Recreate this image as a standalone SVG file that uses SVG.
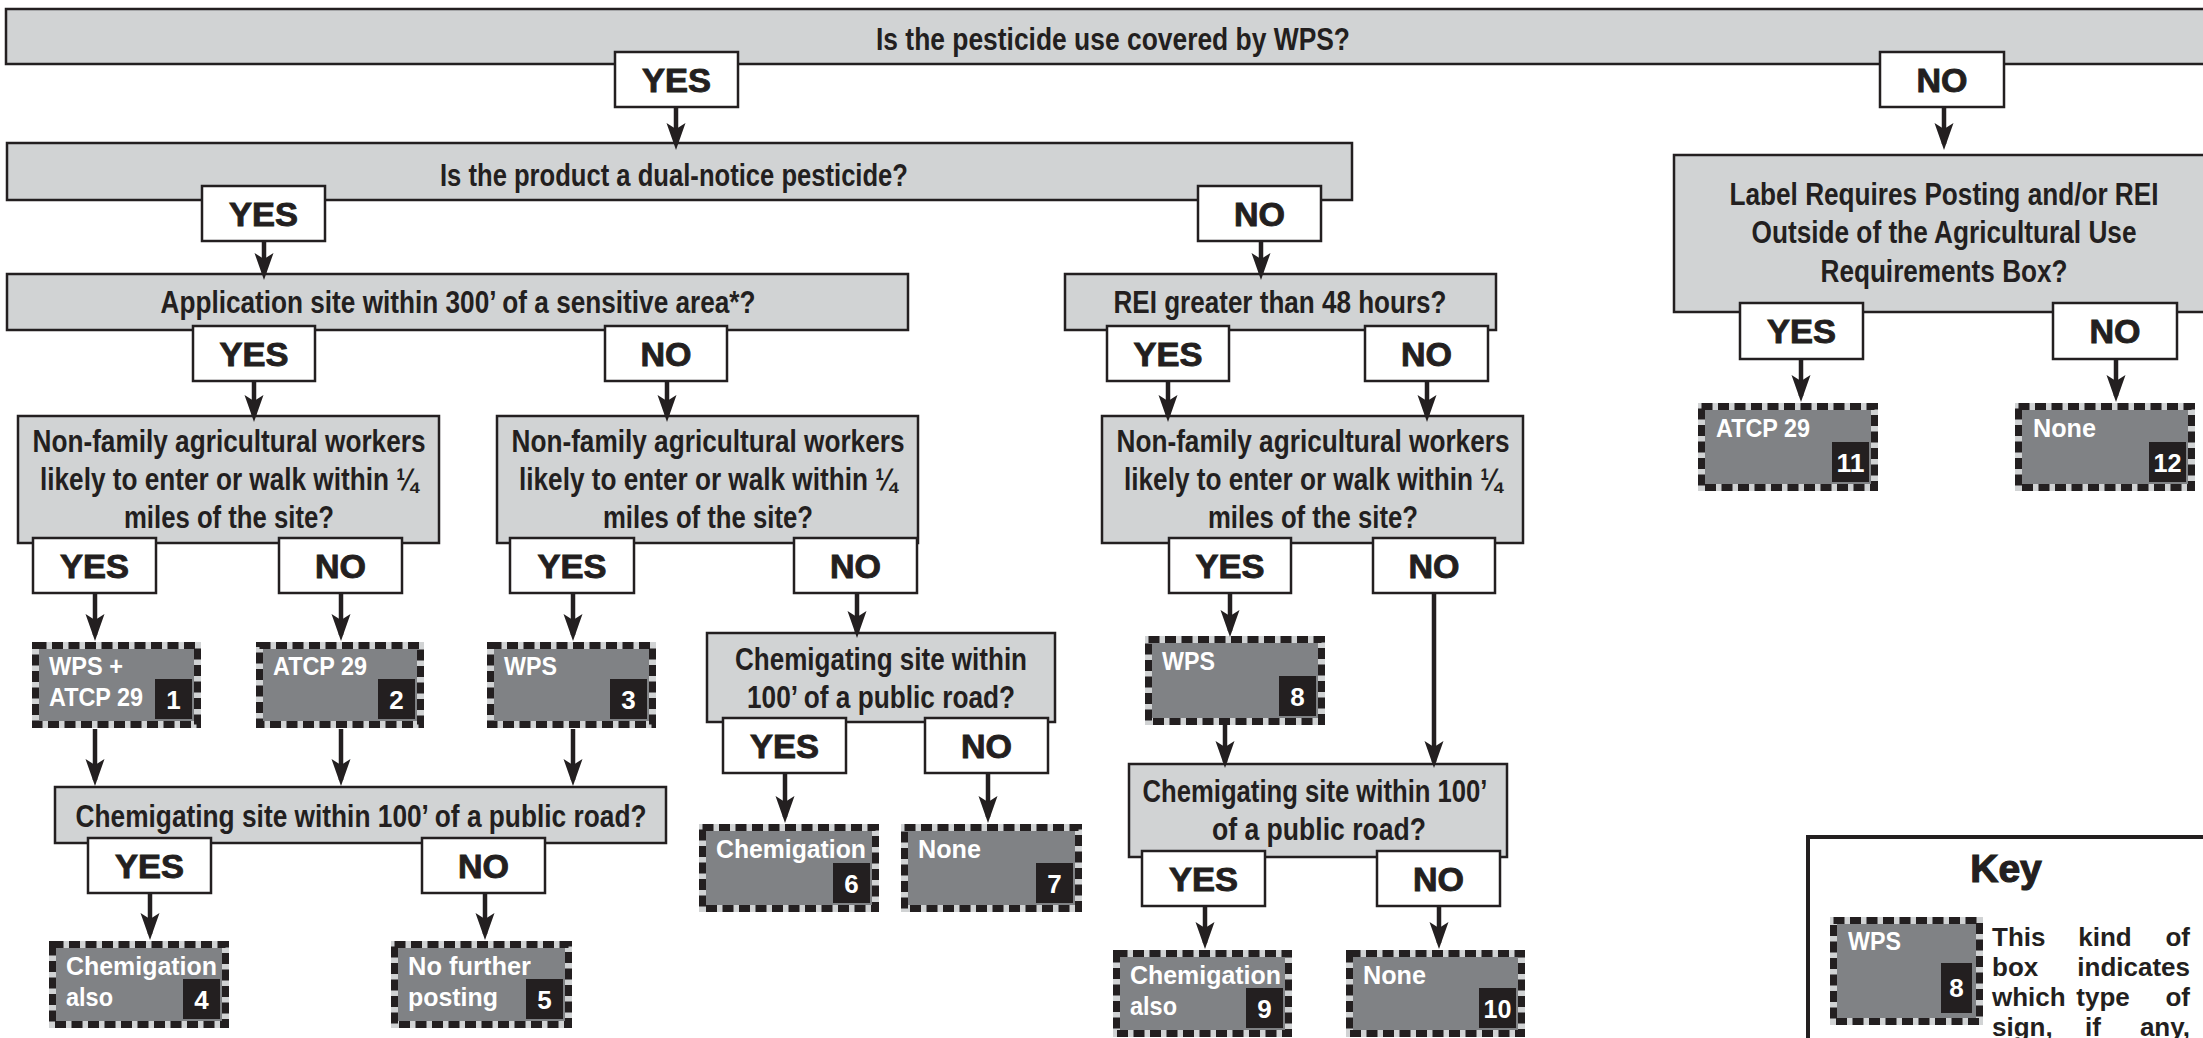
<svg xmlns="http://www.w3.org/2000/svg" width="2203" height="1038" viewBox="0 0 2203 1038">
<defs>
<style>
.q{fill:#d1d3d4;stroke:#231f20;stroke-width:2.5}
.yn{fill:#fff;stroke:#231f20;stroke-width:2.5}
.qt{font-family:'Liberation Sans Narrow','Liberation Sans',Arial,sans-serif;font-weight:bold;font-size:32px;fill:#231f20;text-anchor:middle}
.ynt{font-family:'Liberation Sans',Arial,sans-serif;font-weight:900;font-size:33px;fill:#231f20;stroke:#231f20;stroke-width:0.9;text-anchor:middle}
.tbg{fill:#808285;stroke:#d1d3d4;stroke-width:7}
.tbd{fill:none;stroke:#231f20;stroke-width:7;stroke-dasharray:11 5.5}
.tt{font-family:'Liberation Sans Narrow','Liberation Sans',Arial,sans-serif;font-weight:bold;font-size:26px;fill:#fff}
.bd{fill:#231f20}
.bn{font-family:'Liberation Sans',Arial,sans-serif;font-weight:bold;font-size:26px;fill:#fff;text-anchor:middle}
.kt{font-family:'Liberation Sans',Arial,sans-serif;font-weight:bold;font-size:26px;fill:#231f20}
.conn line{stroke:#231f20;stroke-width:4.5;marker-end:url(#ah)}
</style>
<marker id="ah" markerUnits="userSpaceOnUse" markerWidth="27" markerHeight="20" viewBox="-27 -10 27 20" refX="-6" refY="0" orient="auto">
<path d="M0,0 L-27,-9.5 L-21,0 L-27,9.5 Z" fill="#231f20"/>
</marker>
</defs>
<rect width="2203" height="1038" fill="#fff"/>

<!-- question nodes -->
<g id="q-wps"><rect class="q" x="6" y="9" width="2220" height="55"/><text class="qt" x="1113" y="50" textLength="474" lengthAdjust="spacingAndGlyphs">Is the pesticide use covered by WPS?</text></g>
<g id="q-dual"><rect class="q" x="7" y="143" width="1345" height="57"/><text class="qt" x="674" y="186" textLength="468" lengthAdjust="spacingAndGlyphs">Is the product a dual-notice pesticide?</text></g>
<g id="q-app"><rect class="q" x="7" y="274" width="901" height="56"/><text class="qt" x="458" y="313" textLength="595" lengthAdjust="spacingAndGlyphs">Application site within 300’ of a sensitive area*?</text></g>
<g id="q-rei"><rect class="q" x="1065" y="274" width="431" height="56"/><text class="qt" x="1280" y="313" textLength="333" lengthAdjust="spacingAndGlyphs">REI greater than 48 hours?</text></g>
<g id="q-nf1"><rect class="q" x="18" y="416" width="421" height="127"/>
<text class="qt" x="229" y="452" textLength="393" lengthAdjust="spacingAndGlyphs">Non-family agricultural workers</text>
<text class="qt" x="229" y="490" textLength="378" lengthAdjust="spacingAndGlyphs">likely to enter or walk within ¼</text>
<text class="qt" x="229" y="528" textLength="210" lengthAdjust="spacingAndGlyphs">miles of the site?</text></g>
<g id="q-nf2"><rect class="q" x="497" y="416" width="421" height="127"/>
<text class="qt" x="708" y="452" textLength="393" lengthAdjust="spacingAndGlyphs">Non-family agricultural workers</text>
<text class="qt" x="708" y="490" textLength="378" lengthAdjust="spacingAndGlyphs">likely to enter or walk within ¼</text>
<text class="qt" x="708" y="528" textLength="210" lengthAdjust="spacingAndGlyphs">miles of the site?</text></g>
<g id="q-nf3"><rect class="q" x="1102" y="416" width="421" height="127"/>
<text class="qt" x="1313" y="452" textLength="393" lengthAdjust="spacingAndGlyphs">Non-family agricultural workers</text>
<text class="qt" x="1313" y="490" textLength="378" lengthAdjust="spacingAndGlyphs">likely to enter or walk within ¼</text>
<text class="qt" x="1313" y="528" textLength="210" lengthAdjust="spacingAndGlyphs">miles of the site?</text></g>
<g id="q-chem1"><rect class="q" x="55" y="787" width="611" height="56"/><text class="qt" x="361" y="827" textLength="571" lengthAdjust="spacingAndGlyphs">Chemigating site within 100’ of a public road?</text></g>
<g id="q-chem2"><rect class="q" x="707" y="633" width="348" height="89"/>
<text class="qt" x="881" y="670" textLength="292" lengthAdjust="spacingAndGlyphs">Chemigating site within</text>
<text class="qt" x="881" y="708" textLength="268" lengthAdjust="spacingAndGlyphs">100’ of a public road?</text></g>
<g id="q-chem3"><rect class="q" x="1129" y="764" width="378" height="93"/>
<text class="qt" x="1315" y="802" textLength="345" lengthAdjust="spacingAndGlyphs">Chemigating site within 100’</text>
<text class="qt" x="1319" y="840" textLength="214" lengthAdjust="spacingAndGlyphs">of a public road?</text></g>
<g id="q-label"><rect class="q" x="1674" y="155" width="560" height="157"/>
<text class="qt" x="1944" y="205" textLength="429" lengthAdjust="spacingAndGlyphs">Label Requires Posting and/or REI</text>
<text class="qt" x="1944" y="243" textLength="385" lengthAdjust="spacingAndGlyphs">Outside of the Agricultural Use</text>
<text class="qt" x="1944" y="282" textLength="247" lengthAdjust="spacingAndGlyphs">Requirements Box?</text></g>

<!-- yes/no answer nodes -->
<g id="a-wps-yes"><rect class="yn" x="615" y="52" width="123" height="55"/><text class="ynt" x="676.5" y="92" textLength="69" lengthAdjust="spacingAndGlyphs">YES</text></g>
<g id="a-wps-no"><rect class="yn" x="1880" y="52" width="124" height="55"/><text class="ynt" x="1942" y="92" textLength="51" lengthAdjust="spacingAndGlyphs">NO</text></g>
<g id="a-dual-yes"><rect class="yn" x="202" y="186" width="123" height="55"/><text class="ynt" x="263.5" y="226" textLength="69" lengthAdjust="spacingAndGlyphs">YES</text></g>
<g id="a-dual-no"><rect class="yn" x="1198" y="186" width="123" height="55"/><text class="ynt" x="1259.5" y="226" textLength="51" lengthAdjust="spacingAndGlyphs">NO</text></g>
<g id="a-app-yes"><rect class="yn" x="193" y="326" width="122" height="55"/><text class="ynt" x="254" y="366" textLength="69" lengthAdjust="spacingAndGlyphs">YES</text></g>
<g id="a-app-no"><rect class="yn" x="605" y="326" width="122" height="55"/><text class="ynt" x="666" y="366" textLength="51" lengthAdjust="spacingAndGlyphs">NO</text></g>
<g id="a-rei-yes"><rect class="yn" x="1107" y="326" width="122" height="55"/><text class="ynt" x="1168" y="366" textLength="69" lengthAdjust="spacingAndGlyphs">YES</text></g>
<g id="a-rei-no"><rect class="yn" x="1365" y="326" width="123" height="55"/><text class="ynt" x="1426.5" y="366" textLength="51" lengthAdjust="spacingAndGlyphs">NO</text></g>
<g id="a-nf1-yes"><rect class="yn" x="33" y="538" width="123" height="55"/><text class="ynt" x="94.5" y="578" textLength="69" lengthAdjust="spacingAndGlyphs">YES</text></g>
<g id="a-nf1-no"><rect class="yn" x="279" y="538" width="123" height="55"/><text class="ynt" x="340.5" y="578" textLength="51" lengthAdjust="spacingAndGlyphs">NO</text></g>
<g id="a-nf2-yes"><rect class="yn" x="510" y="538" width="124" height="55"/><text class="ynt" x="572" y="578" textLength="69" lengthAdjust="spacingAndGlyphs">YES</text></g>
<g id="a-nf2-no"><rect class="yn" x="794" y="538" width="123" height="55"/><text class="ynt" x="855.5" y="578" textLength="51" lengthAdjust="spacingAndGlyphs">NO</text></g>
<g id="a-nf3-yes"><rect class="yn" x="1169" y="538" width="122" height="55"/><text class="ynt" x="1230" y="578" textLength="69" lengthAdjust="spacingAndGlyphs">YES</text></g>
<g id="a-nf3-no"><rect class="yn" x="1373" y="538" width="122" height="55"/><text class="ynt" x="1434" y="578" textLength="51" lengthAdjust="spacingAndGlyphs">NO</text></g>
<g id="a-chem1-yes"><rect class="yn" x="88" y="838" width="123" height="55"/><text class="ynt" x="149.5" y="878" textLength="69" lengthAdjust="spacingAndGlyphs">YES</text></g>
<g id="a-chem1-no"><rect class="yn" x="422" y="838" width="123" height="55"/><text class="ynt" x="483.5" y="878" textLength="51" lengthAdjust="spacingAndGlyphs">NO</text></g>
<g id="a-chem2-yes"><rect class="yn" x="723" y="718" width="123" height="55"/><text class="ynt" x="784.5" y="758" textLength="69" lengthAdjust="spacingAndGlyphs">YES</text></g>
<g id="a-chem2-no"><rect class="yn" x="925" y="718" width="123" height="55"/><text class="ynt" x="986.5" y="758" textLength="51" lengthAdjust="spacingAndGlyphs">NO</text></g>
<g id="a-chem3-yes"><rect class="yn" x="1142" y="851" width="123" height="55"/><text class="ynt" x="1203.5" y="891" textLength="69" lengthAdjust="spacingAndGlyphs">YES</text></g>
<g id="a-chem3-no"><rect class="yn" x="1377" y="851" width="123" height="55"/><text class="ynt" x="1438.5" y="891" textLength="51" lengthAdjust="spacingAndGlyphs">NO</text></g>
<g id="a-label-yes"><rect class="yn" x="1740" y="303" width="123" height="56"/><text class="ynt" x="1801.5" y="343" textLength="69" lengthAdjust="spacingAndGlyphs">YES</text></g>
<g id="a-label-no"><rect class="yn" x="2053" y="303" width="124" height="56"/><text class="ynt" x="2115" y="343" textLength="51" lengthAdjust="spacingAndGlyphs">NO</text></g>

<!-- terminal sign nodes -->
<g id="t1"><rect class="tbg" x="35.5" y="645.5" width="162" height="79"/><rect class="tbd" x="35.5" y="645.5" width="162" height="79"/>
<text class="tt" x="49" y="675" textLength="74" lengthAdjust="spacingAndGlyphs">WPS +</text><text class="tt" x="49" y="706" textLength="94" lengthAdjust="spacingAndGlyphs">ATCP 29</text>
<rect class="bd" x="155" y="679" width="37" height="40"/><text class="bn" x="173.5" y="709">1</text></g>
<g id="t2"><rect class="tbg" x="259.5" y="645.5" width="161" height="79"/><rect class="tbd" x="259.5" y="645.5" width="161" height="79"/>
<text class="tt" x="273" y="675" textLength="94" lengthAdjust="spacingAndGlyphs">ATCP 29</text>
<rect class="bd" x="378" y="679" width="37" height="40"/><text class="bn" x="396.5" y="709">2</text></g>
<g id="t3"><rect class="tbg" x="490.5" y="645.5" width="162" height="79"/><rect class="tbd" x="490.5" y="645.5" width="162" height="79"/>
<text class="tt" x="504" y="675" textLength="53" lengthAdjust="spacingAndGlyphs">WPS</text>
<rect class="bd" x="610" y="679" width="37" height="40"/><text class="bn" x="628.5" y="709">3</text></g>
<g id="t4"><rect class="tbg" x="52.5" y="944.5" width="173" height="80"/><rect class="tbd" x="52.5" y="944.5" width="173" height="80"/>
<text class="tt" x="66" y="975" textLength="151" lengthAdjust="spacingAndGlyphs">Chemigation</text><text class="tt" x="66" y="1006" textLength="47" lengthAdjust="spacingAndGlyphs">also</text>
<rect class="bd" x="183" y="979" width="37" height="40"/><text class="bn" x="201.5" y="1009">4</text></g>
<g id="t5"><rect class="tbg" x="394.5" y="944.5" width="174" height="80"/><rect class="tbd" x="394.5" y="944.5" width="174" height="80"/>
<text class="tt" x="408" y="975" textLength="123" lengthAdjust="spacingAndGlyphs">No further</text><text class="tt" x="408" y="1006" textLength="90" lengthAdjust="spacingAndGlyphs">posting</text>
<rect class="bd" x="526" y="979" width="37" height="40"/><text class="bn" x="544.5" y="1009">5</text></g>
<g id="t6"><rect class="tbg" x="702.5" y="827.5" width="173" height="81"/><rect class="tbd" x="702.5" y="827.5" width="173" height="81"/>
<text class="tt" x="716" y="858" textLength="150" lengthAdjust="spacingAndGlyphs">Chemigation</text>
<rect class="bd" x="833" y="863" width="37" height="40"/><text class="bn" x="851.5" y="893">6</text></g>
<g id="t7"><rect class="tbg" x="904.5" y="827.5" width="174" height="81"/><rect class="tbd" x="904.5" y="827.5" width="174" height="81"/>
<text class="tt" x="918" y="858" textLength="63" lengthAdjust="spacingAndGlyphs">None</text>
<rect class="bd" x="1036" y="863" width="37" height="40"/><text class="bn" x="1054.5" y="893">7</text></g>
<g id="t8"><rect class="tbg" x="1148.5" y="639.5" width="173" height="82"/><rect class="tbd" x="1148.5" y="639.5" width="173" height="82"/>
<text class="tt" x="1162" y="670" textLength="53" lengthAdjust="spacingAndGlyphs">WPS</text>
<rect class="bd" x="1279" y="676" width="37" height="40"/><text class="bn" x="1297.5" y="706">8</text></g>
<g id="t9"><rect class="tbg" x="1116.5" y="953.5" width="172" height="80"/><rect class="tbd" x="1116.5" y="953.5" width="172" height="80"/>
<text class="tt" x="1130" y="984" textLength="151" lengthAdjust="spacingAndGlyphs">Chemigation</text><text class="tt" x="1130" y="1015" textLength="47" lengthAdjust="spacingAndGlyphs">also</text>
<rect class="bd" x="1246" y="988" width="37" height="40"/><text class="bn" x="1264.5" y="1018">9</text></g>
<g id="t10"><rect class="tbg" x="1349.5" y="953.5" width="172" height="80"/><rect class="tbd" x="1349.5" y="953.5" width="172" height="80"/>
<text class="tt" x="1363" y="984" textLength="63" lengthAdjust="spacingAndGlyphs">None</text>
<rect class="bd" x="1479" y="988" width="37" height="40"/><text class="bn" x="1497.5" y="1018" textLength="28" lengthAdjust="spacingAndGlyphs">10</text></g>
<g id="t11"><rect class="tbg" x="1701.5" y="406.5" width="173" height="81"/><rect class="tbd" x="1701.5" y="406.5" width="173" height="81"/>
<text class="tt" x="1716" y="437" textLength="94" lengthAdjust="spacingAndGlyphs">ATCP 29</text>
<rect class="bd" x="1832" y="442" width="37" height="40"/><text class="bn" x="1850.5" y="472" textLength="28" lengthAdjust="spacingAndGlyphs">11</text></g>
<g id="t12"><rect class="tbg" x="2018.5" y="406.5" width="173" height="81"/><rect class="tbd" x="2018.5" y="406.5" width="173" height="81"/>
<text class="tt" x="2033" y="437" textLength="63" lengthAdjust="spacingAndGlyphs">None</text>
<rect class="bd" x="2149" y="442" width="37" height="40"/><text class="bn" x="2167.5" y="472" textLength="28" lengthAdjust="spacingAndGlyphs">12</text></g>

<!-- key -->
<g id="key">
<rect x="1808" y="837" width="420" height="240" fill="#fff" stroke="#231f20" stroke-width="4"/>
<text x="2006" y="882" font-family="'Liberation Sans',Arial,sans-serif" font-weight="900" font-size="39" fill="#231f20" stroke="#231f20" stroke-width="1.2" text-anchor="middle">Key</text>
<rect class="tbg" x="1833.5" y="920.5" width="146" height="101"/><rect class="tbd" x="1833.5" y="920.5" width="146" height="101"/>
<text class="tt" x="1848" y="950" textLength="53" lengthAdjust="spacingAndGlyphs">WPS</text>
<rect class="bd" x="1941" y="963" width="31" height="50"/><text class="bn" x="1956.5" y="997">8</text>
<text class="kt" x="1992" y="946">This</text><text class="kt" x="2105" y="946" text-anchor="middle">kind</text><text class="kt" x="2190" y="946" text-anchor="end">of</text>
<text class="kt" x="1992" y="976">box</text><text class="kt" x="2190" y="976" text-anchor="end">indicates</text>
<text class="kt" x="1992" y="1006">which</text><text class="kt" x="2103" y="1006" text-anchor="middle">type</text><text class="kt" x="2190" y="1006" text-anchor="end">of</text>
<text class="kt" x="1992" y="1036">sign,</text><text class="kt" x="2093" y="1036" text-anchor="middle">if</text><text class="kt" x="2190" y="1036" text-anchor="end">any,</text>
</g>

<!-- connectors -->
<g id="connectors" class="conn">
<line x1="676" y1="107" x2="676" y2="144"/>
<line x1="1944" y1="107" x2="1944" y2="144"/>
<line x1="264" y1="241" x2="264" y2="274"/>
<line x1="1261" y1="241" x2="1261" y2="274"/>
<line x1="254" y1="381" x2="254" y2="416"/>
<line x1="667" y1="381" x2="667" y2="416"/>
<line x1="1168" y1="381" x2="1168" y2="416"/>
<line x1="1427" y1="381" x2="1427" y2="416"/>
<line x1="95" y1="593" x2="95" y2="635"/>
<line x1="341" y1="593" x2="341" y2="635"/>
<line x1="573" y1="593" x2="573" y2="635"/>
<line x1="857" y1="593" x2="857" y2="632"/>
<line x1="1230" y1="593" x2="1230" y2="631"/>
<line x1="1434" y1="593" x2="1434" y2="762"/>
<line x1="95" y1="729" x2="95" y2="780"/>
<line x1="341" y1="729" x2="341" y2="780"/>
<line x1="573" y1="729" x2="573" y2="780"/>
<line x1="150" y1="893" x2="150" y2="934"/>
<line x1="485" y1="893" x2="485" y2="934"/>
<line x1="785" y1="773" x2="785" y2="817"/>
<line x1="988" y1="773" x2="988" y2="817"/>
<line x1="1225" y1="725" x2="1225" y2="762"/>
<line x1="1205" y1="906" x2="1205" y2="943"/>
<line x1="1439" y1="906" x2="1439" y2="943"/>
<line x1="1801" y1="359" x2="1801" y2="396"/>
<line x1="2116" y1="359" x2="2116" y2="396"/>
</g>
</svg>
